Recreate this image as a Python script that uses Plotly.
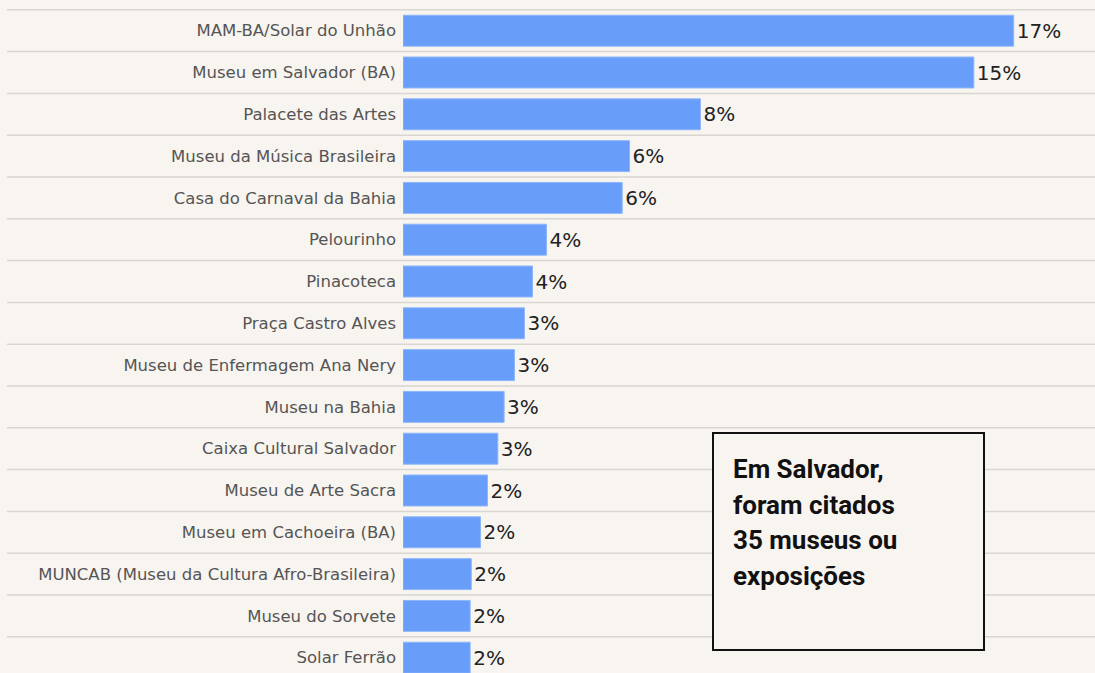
import plotly.graph_objects as go

categories = [
    "MAM-BA/Solar do Unhão",
    "Museu em Salvador (BA)",
    "Palacete das Artes",
    "Museu da Música Brasileira",
    "Casa do Carnaval da Bahia",
    "Pelourinho",
    "Pinacoteca",
    "Praça Castro Alves",
    "Museu de Enfermagem Ana Nery",
    "Museu na Bahia",
    "Caixa Cultural Salvador",
    "Museu de Arte Sacra",
    "Museu em Cachoeira (BA)",
    "MUNCAB (Museu da Cultura Afro-Brasileira)",
    "Museu do Sorvete",
    "Solar Ferrão",
]
values = [16.55, 15.47, 8.06, 6.14, 5.94, 3.89, 3.51, 3.29, 3.02, 2.74, 2.57, 2.29, 2.10, 1.85, 1.82, 1.82]
value_labels = ["17%", "15%", "8%", "6%", "6%", "4%", "4%", "3%", "3%", "3%", "3%", "2%", "2%", "2%", "2%", "2%"]
note_lines = ["Em Salvador,", "foram citados", "35 museus ou", "exposições"]

BG = "#f8f4f0"
BAR = "#699dfa"
W, H = 1095, 673
L = 403

idx = list(range(len(categories)))

fig = go.Figure()
fig.add_trace(go.Bar(
    x=values, y=idx, orientation="h",
    marker=dict(color=BAR, line=dict(color="#8db6fb", width=1)),
    width=0.74,
    text=value_labels, textposition="outside",
    textfont=dict(family="DejaVu Sans", size=20, color="#222222"),
    cliponaxis=False,
    hoverinfo="skip",
))

# row separator lines (extend into left margin)
shapes = []
x0_paper = (7 - L) / (W - L)
for i in range(len(categories)):
    shapes.append(dict(
        type="line", xref="paper", yref="y",
        x0=x0_paper, x1=1, y0=i - 0.5, y1=i - 0.5,
        line=dict(color="#d9d6d2", width=1.5), layer="below",
    ))

def px_x(px):
    return (px - L) / (W - L)

def px_y(py):
    return 1 - py / H

# note box
shapes.append(dict(
    type="rect", xref="paper", yref="paper",
    x0=px_x(713), x1=px_x(984), y0=px_y(650), y1=px_y(433),
    fillcolor=BG, line=dict(color="#111111", width=2), layer="above",
))

annotations = []
line_centers = [469, 504.5, 540, 575.5]
for txt, cy in zip(note_lines, line_centers):
    annotations.append(dict(
        xref="paper", yref="paper", x=px_x(731), y=px_y(cy),
        xanchor="left", yanchor="middle", showarrow=False,
        text=f"<b>{txt}</b>",
        font=dict(family="Roboto", size=26, color="#111111"),
    ))

row_h = 41.8
c0 = 30.7
y_top = -c0 / row_h
y_bot = (H - c0) / row_h

fig.update_layout(
    width=W, height=H,
    margin=dict(l=L, r=0, t=0, b=0),
    paper_bgcolor=BG, plot_bgcolor=BG,
    showlegend=False,
    shapes=shapes,
    annotations=annotations,
    xaxis=dict(range=[0, (W - L) / 36.9], visible=False, fixedrange=True),
    yaxis=dict(
        range=[y_bot, y_top], tickvals=idx, ticktext=categories,
        showgrid=False, zeroline=False, showline=False,
        ticks="", ticklabelstandoff=6,
        tickfont=dict(family="DejaVu Sans", size=16.5, color="#555555"),
        fixedrange=True,
    ),
)

fig.write_html(
    "out.html",
    config={"displayModeBar": False},
    post_script="document.body.style.margin='0';document.body.style.overflow='hidden';",
)
